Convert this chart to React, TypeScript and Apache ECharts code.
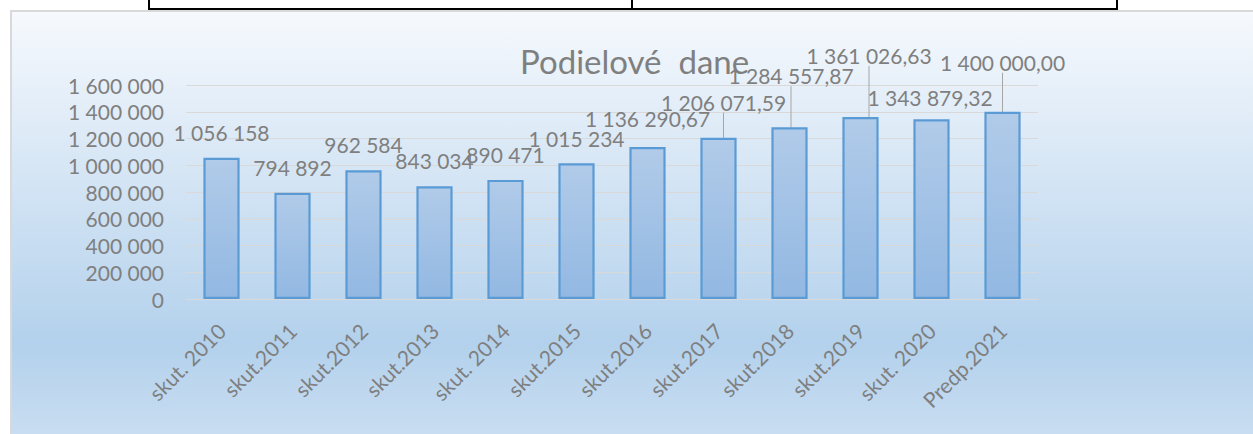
import React, { useEffect, useRef } from "react";
import * as echarts from "echarts";

const categories = [
  "skut. 2010", "skut.2011", "skut.2012", "skut.2013", "skut. 2014", "skut.2015",
  "skut.2016", "skut.2017", "skut.2018", "skut.2019", "skut. 2020", "Predp.2021",
];
const values = [
  1056158, 794892, 962584, 843034, 890471, 1015234,
  1136290.67, 1206071.59, 1284557.87, 1361026.63, 1343879.32, 1400000.0,
];
const labelDecimals = [0, 0, 0, 0, 0, 0, 2, 2, 2, 2, 2, 2];
const yTicks = { min: 0, max: 1600000, interval: 200000 };
const titleText = "Podielové  dane";

// manual label displacements (layout only)
const labelShift: [number, number][] = [
  [0, 0], [0, 0], [0, 0], [0, 0], [0, 0], [0, 1],
  [0, -3], [5, -10], [1.5, -26], [8.5, -36], [-1.5, 4], [0, -24],
];
const withLeader = [false, false, false, false, false, false, false, true, true, true, false, true];

function fmt(v: number, dec: number): string {
  const fixed = v.toFixed(dec);
  const [intPart, decPart] = fixed.split(".");
  const grouped = intPart.replace(/\B(?=(\d{3})+(?!\d))/g, " ");
  return decPart ? grouped + "," + decPart : grouped;
}

const FONT = "Lato, 'Open Sans', sans-serif";
const GRAY = "#7f7f7f";

export default function App() {
  const ref = useRef<HTMLDivElement>(null);
  useEffect(() => {
    if (!ref.current) return;
    const chart = echarts.init(ref.current, undefined, { renderer: "svg" });
    chart.setOption({
      animation: false,
      backgroundColor: "transparent",
      textStyle: { fontFamily: FONT },
      title: {
        text: titleText,
        left: 503,
        top: 27,
        textStyle: { fontFamily: FONT, fontSize: 33, fontWeight: "normal", color: GRAY },
      },
      grid: { left: 174, top: 73, width: 852, height: 214, containLabel: false },
      xAxis: {
        type: "category",
        data: categories,
        axisLine: { show: true, lineStyle: { color: "#d9d9d9", width: 1 } },
        axisTick: { show: false },
        axisLabel: {
          rotate: 45,
          margin: 28,
          interval: 0,
          color: GRAY,
          fontSize: 21,
          fontFamily: FONT,
        },
      },
      yAxis: {
        type: "value",
        min: yTicks.min,
        max: yTicks.max,
        interval: yTicks.interval,
        axisLine: { show: false },
        axisTick: { show: false },
        splitLine: { lineStyle: { color: "#d9d9d9", width: 1 } },
        axisLabel: {
          margin: 22,
          color: GRAY,
          fontSize: 21,
          fontFamily: FONT,
          formatter: (v: number) => fmt(v, 0),
        },
      },
      series: [
        {
          type: "bar",
          barWidth: "51%",
          data: values.map((v, i) => ({
            value: v,
            labelLine: { show: withLeader[i] },
          })),
          itemStyle: {
            color: new echarts.graphic.LinearGradient(0, 0, 0, 1, [
              { offset: 0, color: "#b1cbe9" },
              { offset: 1, color: "#92b8e2" },
            ]),
            borderColor: "#5b9bd5",
            borderWidth: 2.2,
          },
          label: {
            show: true,
            position: "top",
            distance: 15,
            color: GRAY,
            fontSize: 21,
            fontFamily: FONT,
            formatter: (p: any) => fmt(values[p.dataIndex], labelDecimals[p.dataIndex]),
          },
          labelLine: {
            show: false,
            lineStyle: { color: "#a6a6a6", width: 1 },
          },
          labelLayout: (p: any) => ({
            dx: labelShift[p.dataIndex][0],
            dy: labelShift[p.dataIndex][1],
          }),
        },
      ],
    });
    return () => chart.dispose();
  }, []);

  return (
    <div
      style={{
        position: "fixed",
        left: 0,
        top: 0,
        width: 1253,
        height: 434,
        background: "#fff",
        overflow: "hidden",
      }}
    >
      <div
        style={{
          position: "absolute",
          left: 148,
          top: -10,
          width: 970,
          height: 20,
          border: "2px solid #000",
          boxSizing: "border-box",
        }}
      />
      <div
        style={{
          position: "absolute",
          left: 631,
          top: -10,
          width: 2,
          height: 20,
          background: "#000",
        }}
      />
      <div
        style={{
          position: "absolute",
          left: 10,
          top: 10,
          width: 1300,
          height: 460,
          borderLeft: "2px solid #d9d9d9",
          borderTop: "2px solid #d9d9d9",
          background:
            "linear-gradient(to bottom, #f6f9fd 0px, #b3d1ec 331px, #c8ddf1 422px)",
        }}
      >
        <div ref={ref} style={{ width: 1241, height: 422 }} />
      </div>
    </div>
  );
}
